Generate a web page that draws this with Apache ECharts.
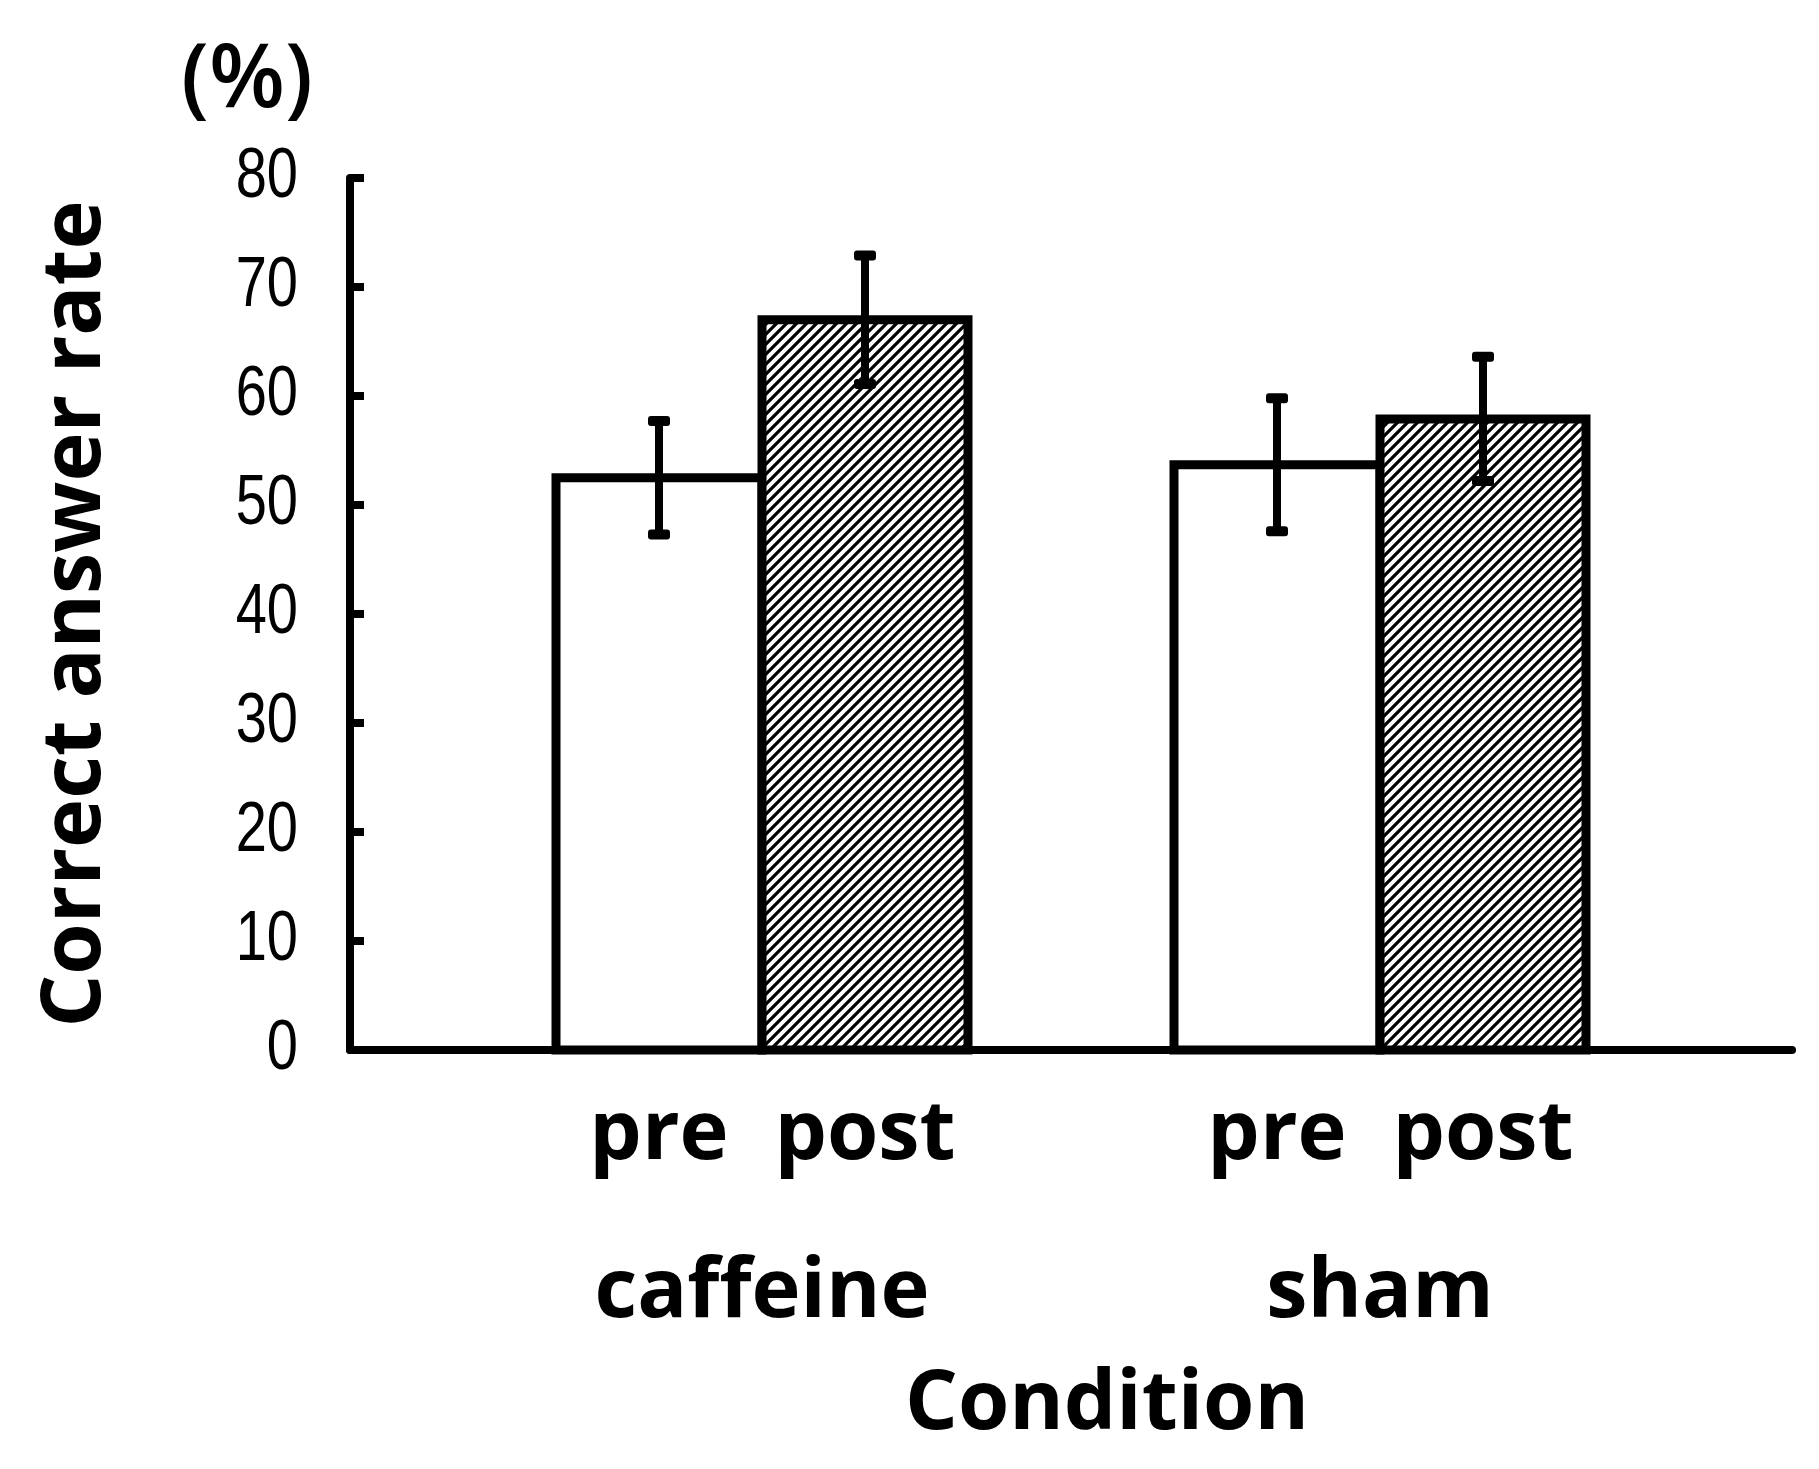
<!DOCTYPE html>
<html lang="en">
<head>
    <meta charset="UTF-8">
    <title>Correct answer rate</title>
    <style>
        html, body { margin: 0; padding: 0; background: #fff; }
        #chart { width: 1819px; height: 1469px; }
    </style>
</head>
<body>
    <div id="chart"></div>
    <script src="https://cdn.jsdelivr.net/npm/echarts@6/dist/echarts.min.js"></script>
    <script>
// values
var conditions = ['caffeine', 'sham'];
var phases = ['pre', 'post'];
var preMean = [52.5, 53.7];
var postMean = [67.0, 57.9];
var preErr = [5.2, 6.1];
var postErr = [5.9, 5.7];
var yTicks = [0, 10, 20, 30, 40, 50, 60, 70, 80];

// category slots: spacer, pre, post, spacer, pre, post, spacer
var slots = [];
var preBars = [];
var postBars = [];
var errData = [];
conditions.forEach(function (c, i) {
    slots.push('', phases[0], phases[1]);
    preBars.push([slots.length - 2, preMean[i]]);
    postBars.push([slots.length - 1, postMean[i]]);
    errData.push([slots.length - 2, preMean[i], preErr[i]]);
    errData.push([slots.length - 1, postMean[i], postErr[i]]);
});
slots.push('');

// group label sits on the boundary between pre and post of each condition
var groupAt = {};
conditions.forEach(function (c, i) { groupAt[3 * i + 2] = c; });

// hatch pattern for the post bars
var hatch = document.createElement('canvas');
hatch.width = 10;
hatch.height = 10;
var hc = hatch.getContext('2d');
hc.fillStyle = '#fff';
hc.fillRect(0, 0, 10, 10);
hc.strokeStyle = '#000';
hc.lineWidth = 3.2;
hc.beginPath();
hc.moveTo(-5, 5); hc.lineTo(5, -5);
hc.moveTo(0, 10); hc.lineTo(10, 0);
hc.moveTo(5, 15); hc.lineTo(15, 5);
hc.stroke();

var boldFont = '"Open Sans", "Noto Sans", sans-serif';
var chart = echarts.init(document.getElementById('chart'));

// plain outlined bar, one per slot, filling the whole slot
function barItem(fill) {
    return function (params, api) {
        var top = api.coord([api.value(0), api.value(1)]);
        var base = api.coord([api.value(0), 0]);
        var w = api.size([1, 0])[0];
        return {
            type: 'rect',
            shape: { x: top[0] - w / 2, y: top[1], width: w, height: base[1] - top[1] },
            style: { fill: fill, stroke: '#000', lineWidth: 9 }
        };
    };
}

var option = {
    backgroundColor: '#fff',
    animation: false,
    grid: { left: 350, right: 27, top: 178, bottom: 419 },
    graphic: [{
        type: 'text',
        x: 247,
        y: 82,
        style: {
            text: '(%)',
            fontFamily: boldFont,
            fontSize: 88,
            fontWeight: 600,
            fill: '#000',
            align: 'center',
            verticalAlign: 'middle'
        }
    }],
    xAxis: [{
        type: 'category',
        data: slots,
        axisLine: { lineStyle: { color: '#000', width: 8 } },
        axisTick: { show: false },
        axisLabel: {
            interval: 0,
            color: '#000',
            fontFamily: boldFont,
            fontWeight: 'bold',
            fontSize: 83,
            margin: 44
        }
    }, {
        type: 'value',
        position: 'bottom',
        min: 0,
        max: slots.length,
        interval: 1,
        axisLine: { show: false },
        axisTick: { show: false },
        splitLine: { show: false },
        axisLabel: {
            color: '#000',
            fontFamily: boldFont,
            fontWeight: 'bold',
            fontSize: 83,
            margin: 202,
            showMinLabel: false,
            showMaxLabel: false,
            formatter: function (v) { return groupAt[v] || ''; }
        },
        name: 'Condition',
        nameLocation: 'middle',
        nameGap: 314,
        nameTextStyle: {
            color: '#000',
            fontFamily: boldFont,
            fontWeight: 'bold',
            fontSize: 83,
            padding: [0, 0, 0, 72]
        }
    }],
    yAxis: {
        type: 'value',
        min: yTicks[0],
        max: yTicks[yTicks.length - 1],
        interval: 10,
        axisLine: { show: true, lineStyle: { color: '#000', width: 8 } },
        axisTick: { show: true, inside: true, length: 14, lineStyle: { color: '#000', width: 8 } },
        splitLine: { show: false },
        axisLabel: { show: false },
        name: 'Correct answer rate',
        nameLocation: 'middle',
        nameGap: 232,
        nameTextStyle: {
            color: '#000',
            fontFamily: boldFont,
            fontWeight: 'bold',
            fontSize: 83
        }
    },
    series: [{
        name: phases[0],
        type: 'custom',
        data: preBars,
        z: 2,
        renderItem: barItem('#fff')
    }, {
        name: phases[1],
        type: 'custom',
        data: postBars,
        z: 2,
        renderItem: barItem({ image: hatch, repeat: 'repeat' })
    }, {
        // error bars
        type: 'custom',
        data: errData,
        z: 10,
        renderItem: function (params, api) {
            var x = api.value(0);
            var m = api.value(1);
            var e = api.value(2);
            var hi = api.coord([x, m + e]);
            var lo = api.coord([x, m - e]);
            var capW = 22, capH = 10;
            return {
                type: 'group',
                children: [{
                    type: 'line',
                    shape: { x1: hi[0], y1: hi[1], x2: lo[0], y2: lo[1] },
                    style: { stroke: '#000', lineWidth: 8 }
                }, {
                    type: 'rect',
                    shape: { x: hi[0] - capW / 2, y: hi[1] - capH / 2, width: capW, height: capH, r: 3 },
                    style: { fill: '#000' }
                }, {
                    type: 'rect',
                    shape: { x: lo[0] - capW / 2, y: lo[1] - capH / 2, width: capW, height: capH, r: 3 },
                    style: { fill: '#000' }
                }]
            };
        }
    }, {
        // y tick labels in a narrow face, placed on the y scale
        type: 'custom',
        data: yTicks.map(function (v) { return [0, v]; }),
        clip: false,
        silent: true,
        renderItem: function (params, api) {
            var p = api.coord([0, api.value(1)]);
            return {
                type: 'text',
                x: params.coordSys.x - 52,
                y: p[1],
                scaleX: 0.8,
                style: {
                    text: String(api.value(1)),
                    fontFamily: '"Liberation Sans", Arial, sans-serif',
                    fontSize: 70,
                    fill: '#000',
                    align: 'right',
                    verticalAlign: 'middle'
                }
            };
        }
    }]
};
chart.setOption(option);
    </script>
</body>
</html>
